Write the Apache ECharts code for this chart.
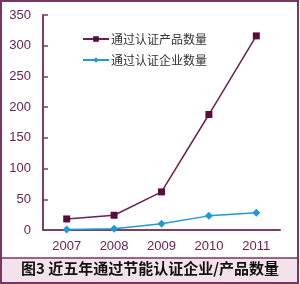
<!DOCTYPE html>
<html><head><meta charset="utf-8">
<script src="https://cdn.jsdelivr.net/npm/echarts@6/dist/echarts.min.js"></script>
<style>html,body{margin:0;padding:0;background:#fff}#c{width:300px;height:284px}</style>
</head><body><div id="c"></div>
<script>
const years = ['2007','2008','2009','2010','2011'];
const productCounts = [18, 24, 62, 188, 316];
const enterpriseCounts = [1, 2, 10, 23, 28];
const yTicks = [0, 50, 100, 150, 200, 250, 300, 350];
const seriesNames = ['通过认证产品数量', '通过认证企业数量'];
const caption = '图3 近五年通过节能认证企业/产品数量';

const maroon = '#6b2150';
const axisCol = '#7d3d66';
const blue = '#1f9ad6';

const chart = echarts.init(document.getElementById('c'), null, {renderer:'canvas'});
chart.setOption({
  animation: false,
  grid: {left: 43, right: 20, top: 15, bottom: 54},
  legend: {
    orient: 'vertical', left: 77, top: 28, itemGap: 9,
    itemWidth: 26, itemHeight: 7,
    textStyle: {fontFamily: 'Noto Sans CJK SC', fontSize: 12, color: '#333', padding:[0,0,0,-3]},
    data: seriesNames
  },
  xAxis: {
    type: 'category', data: years, boundaryGap: true,
    axisLine: {lineStyle: {color: axisCol, width: 2}},
    axisTick: {inside: true, length: 5, lineStyle: {color: axisCol, width: 1.5}},
    axisLabel: {color: maroon, fontFamily: 'Liberation Sans', fontSize: 13, margin: 10}
  },
  yAxis: {
    type: 'value', min: yTicks[0], max: yTicks[yTicks.length-1], interval: 50,
    splitLine: {show: false},
    axisLine: {show: true, lineStyle: {color: axisCol, width: 2}},
    axisTick: {show: true, inside: true, length: 5, lineStyle: {color: axisCol, width: 1.5}},
    axisLabel: {color: maroon, fontFamily: 'Liberation Sans', fontSize: 13, margin: 12}
  },
  series: [
    {name: seriesNames[0], type: 'line', data: productCounts, symbol: 'rect', symbolSize: 7,
     lineStyle: {color: maroon, width: 1.5}, itemStyle: {color: '#5a0d3c'}},
    {name: seriesNames[1], type: 'line', data: enterpriseCounts, symbol: 'diamond', symbolSize: 8,
     lineStyle: {color: blue, width: 1.5}, itemStyle: {color: blue}}
  ],
  graphic: [
    {type: 'rect', shape: {x: 1, y: 258, width: 297, height: 24}, style: {fill: '#f3e2ec', stroke: null}, z: -1},
    {type: 'line', shape: {x1: 1, y1: 258, x2: 298, y2: 258}, style: {stroke: '#7a3562', lineWidth: 1.5}},
    {type: 'rect', shape: {x: 1, y: 1, width: 297, height: 282}, style: {fill: null, stroke: '#7a3562', lineWidth: 2}},
    {type: 'text', left: 'center', top: 261, style: {text: caption, font: 'bold 15px "Noto Sans CJK SC"', fill: '#111'}}
  ]
});
</script></body></html>
